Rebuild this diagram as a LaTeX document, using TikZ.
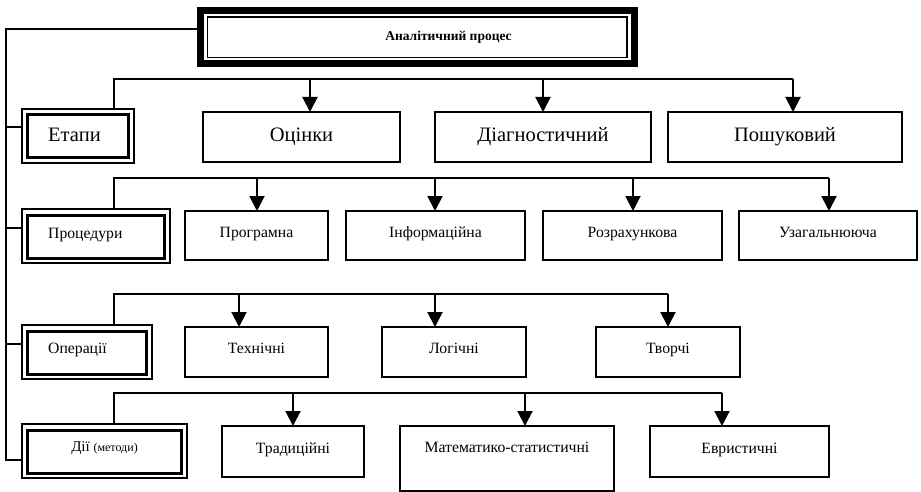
\documentclass[tikz,border=0pt]{standalone}
\usepackage{fontspec}
\setmainfont{Liberation Serif}
\usetikzlibrary{arrows.meta}
\begin{document}
\begin{tikzpicture}[x=1pt,y=-1pt,
  box/.style={draw, line width=1.5pt, inner sep=0pt, outer sep=0pt, align=center},
  big/.style={font=\fontsize{20.5}{24}\selectfont},
  mid/.style={font=\fontsize{15.7}{18}\selectfont, text height=10pt, text depth=7pt},
  catbox/.style={draw, line width=2pt, inner sep=0pt, outer sep=0pt},
  inbox/.style={line width=3pt},
  cattext/.style={anchor=west, inner sep=0pt},
  conn/.style={line width=2pt},
  arr/.style={conn, -{Triangle[length=15pt,width=15pt]}},
]
\useasboundingbox (0,0) rectangle (921,492);

% title
\node[draw, line width=7pt, inner sep=0pt, outer sep=0pt, minimum width=433.5pt, minimum height=53pt] (title) at (417.25,37) {};
\draw[line width=1.5pt] ([xshift=7pt,yshift=-6.5pt]title.north west) rectangle ([xshift=-7pt,yshift=6pt]title.south east);
\node[font=\fontsize{13.5}{16}\selectfont\bfseries, inner sep=0pt] (titletext) at (448.5,37) {Аналітичний процес};

% category boxes
\node[catbox, minimum width=112pt, minimum height=54pt] (etapy) at (78,136) {};
\node[catbox, minimum width=148pt, minimum height=54pt] (proc) at (96,236) {};
\node[catbox, minimum width=130pt, minimum height=54pt] (oper) at (87,352) {};
\node[catbox, minimum width=165pt, minimum height=54pt] (dii) at (104.5,451) {};
\foreach \b in {etapy,proc,oper,dii}{
  \draw[inbox] ([xshift=5.5pt,yshift=-6pt]\b.north west) rectangle ([xshift=-5.5pt,yshift=5pt]\b.south east);
}
\node[cattext, font=\fontsize{20.5}{24}\selectfont] (tetapy) at (48,135) {Етапи};
\node[cattext, font=\fontsize{15.7}{18}\selectfont] (tproc) at (48,235) {Процедури};
\node[cattext, font=\fontsize{15.7}{18}\selectfont] (toper) at (48,350) {Операції};
\node[inner sep=0pt] (tdii) at (104.5,448) {\fontsize{15}{18}\selectfont Дії \fontsize{12}{14}\selectfont(методи)};

% level 1
\node[box, big, minimum width=197pt, minimum height=50pt] (ocinky) at (301.5,137) {Оцінки};
\node[box, big, minimum width=216pt, minimum height=50pt] (diag) at (543,137) {Діагностичний};
\node[box, big, minimum width=234pt, minimum height=50pt] (poshuk) at (785,137) {Пошуковий};

% level 2
\node[box, mid, minimum width=143pt, minimum height=49pt] (prog) at (256.5,235.5) {Програмна};
\node[box, mid, minimum width=179pt, minimum height=49pt] (inform) at (435.5,235.5) {Інформаційна};
\node[box, mid, minimum width=179pt, minimum height=49pt] (rozrah) at (632.5,235.5) {Розрахункова};
\node[box, mid, minimum width=178pt, minimum height=49pt] (uzag) at (828,235.5) {Узагальнююча};

% level 3
\node[box, mid, minimum width=143pt, minimum height=50pt] (tekh) at (256.5,352) {Технічні};
\node[box, mid, minimum width=144pt, minimum height=50pt] (logic) at (454,352) {Логічні};
\node[box, mid, minimum width=144pt, minimum height=50pt] (tvor) at (668,352) {Творчі};

% level 4
\node[box, mid, minimum width=142pt, minimum height=51pt] (trad) at (293,451.5) {Традиційні};
\node[box, font=\fontsize{15.7}{18}\selectfont, text height=10pt, text depth=23pt, minimum width=214pt, minimum height=65pt] (matem) at (507,458.5) {Математико-статистичні};
\node[box, mid, minimum width=179pt, minimum height=51pt] (evr) at (739.5,451.5) {Евристичні};

% spine
\coordinate (spineend) at (6,460);
\draw[conn] ([yshift=8pt]title.west) -| (spineend) -- ([yshift=-9pt]dii.west);
\draw[conn] ([yshift=9pt]etapy.west) -- +(-16,0);
\draw[conn] ([yshift=8pt]proc.west) -- +(-16,0);
\draw[conn] ([yshift=8pt]oper.west) -- +(-16,0);

% buses
\coordinate (bus1) at (114,79);
\coordinate (bus1end) at (793,79);
\draw[conn] (bus1 |- etapy.north) -- (bus1) -- (bus1end);
\coordinate (bus2) at (114,178);
\coordinate (bus2end) at (829,178);
\draw[conn] (bus2 |- proc.north) -- (bus2) -- (bus2end);
\coordinate (bus3) at (114,294);
\coordinate (bus3end) at (668,294);
\draw[conn] (bus3 |- oper.north) -- (bus3) -- (bus3end);
\coordinate (bus4) at (114,393);
\coordinate (bus4end) at (722,393);
\draw[conn] (bus4 |- dii.north) -- (bus4) -- (bus4end);

% arrows
\foreach \x/\t in {310/ocinky,543/diag,793/poshuk}{
  \coordinate (p) at (\x,79);
  \draw[arr] (p) -- (p |- \t.north);
}
\foreach \x/\t in {257/prog,435/inform,633/rozrah,829/uzag}{
  \coordinate (p) at (\x,178);
  \draw[arr] (p) -- (p |- \t.north);
}
\foreach \x/\t in {239/tekh,435/logic,668/tvor}{
  \coordinate (p) at (\x,294);
  \draw[arr] (p) -- (p |- \t.north);
}
\foreach \x/\t in {293/trad,525/matem,722/evr}{
  \coordinate (p) at (\x,393);
  \draw[arr] (p) -- (p |- \t.north);
}
\end{tikzpicture}
\end{document}
